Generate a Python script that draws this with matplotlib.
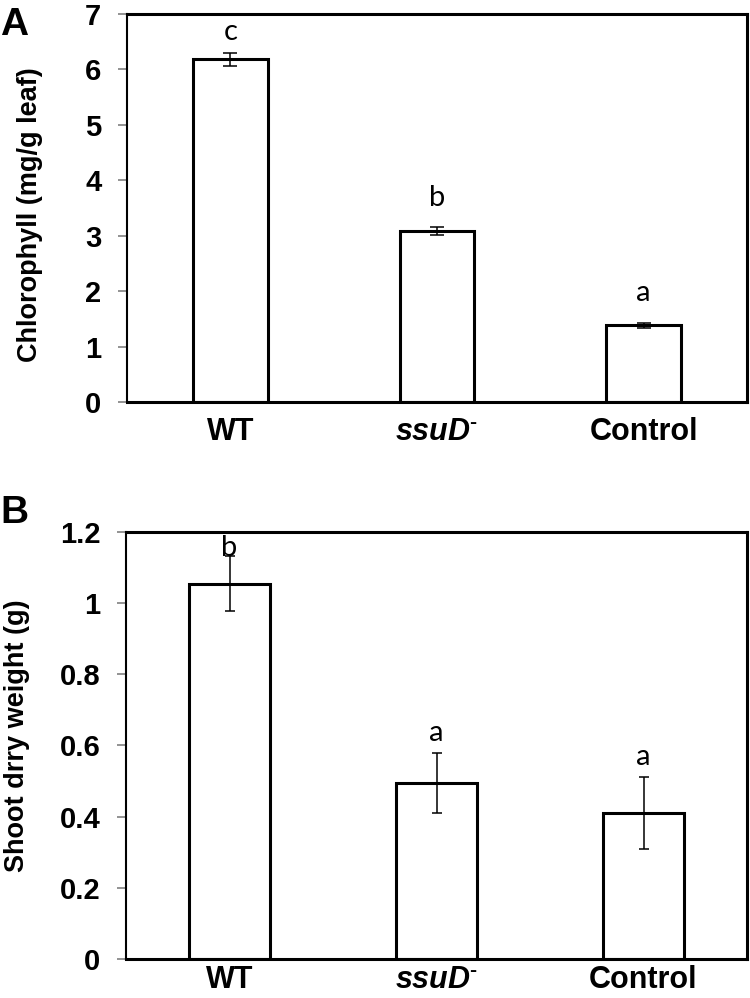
import numpy as np
import matplotlib
matplotlib.use("Agg")
from matplotlib import pyplot as plt

plt.rcParams['font.family'] = ['Liberation Sans', 'DejaVu Sans']
plt.rcParams['mathtext.fontset'] = 'custom'
plt.rcParams['mathtext.rm'] = 'Liberation Sans'
plt.rcParams['mathtext.bf'] = 'Liberation Sans:bold'
plt.rcParams['mathtext.bfit'] = 'Liberation Sans:bold:italic'

# Donnees
groupes = ['WT', '$\\mathbfit{ssuD}^{\\mathbf{\u2010}}$', 'Control']

chloro = [6.18, 3.08, 1.38]
chloro_err = [0.12, 0.07, 0.05]
chloro_lettres = ['c', 'b', 'a']
chloro_lettres_y = [6.68, 3.68, 1.96]

poids = [1.055, 0.495, 0.41]
poids_err = [0.078, 0.085, 0.10]
poids_lettres = ['b', 'a', 'a']
poids_lettres_y = [1.155, 0.635, 0.568]

ticks_a = [0, 1, 2, 3, 4, 5, 6, 7]
ticks_b = [0, 0.2, 0.4, 0.6, 0.8, 1, 1.2]
ticks_b_labels = ['0', '0.2', '0.4', '0.6', '0.8', '1', '1.2']


def panneau(ax, valeurs, erreurs, lettres, lettres_y, largeur, cap, xpad):
    x = np.arange(len(valeurs))
    ax.bar(x, valeurs, width=largeur, color='white', edgecolor='black',
           linewidth=2.2, zorder=2)
    ax.errorbar(x, valeurs, yerr=erreurs, fmt='none', ecolor='black',
                elinewidth=1.1, capsize=cap, capthick=1.1, zorder=3)
    for xi, l, ly in zip(x, lettres, lettres_y):
        ax.text(xi, ly, l, ha='center', va='center', fontsize=21,
                family=['Lato', 'DejaVu Sans'])
    ax.set_xlim(-0.5, len(valeurs) - 0.5)
    ax.set_xticks(x)
    ax.set_xticklabels(groupes, fontsize=22, fontweight='bold')
    ax.tick_params(axis='x', length=0, pad=xpad)
    ax.tick_params(axis='y', direction='out', length=6.5, width=1.2,
                   color='#808080', pad=12, labelsize=21)
    for lab in ax.get_yticklabels():
        lab.set_fontweight('bold')
    ax.spines['top'].set_linewidth(2.2)
    ax.spines['bottom'].set_linewidth(2.2)
    ax.spines['right'].set_linewidth(2.2)
    ax.spines['left'].set_linewidth(1.5)


fig = plt.figure(figsize=(7.5, 9.98), dpi=100)

# Panneau A
axA = fig.add_axes([0.1693, 0.5972, 0.8267, 0.3888])
axA.set_ylim(0, 7)
axA.set_yticks(ticks_a)
panneau(axA, chloro, chloro_err, chloro_lettres, chloro_lettres_y, 0.36, 4.7, 11)

# Panneau B
axB = fig.add_axes([0.168, 0.0391, 0.828, 0.4279])
axB.set_ylim(0, 1.2)
axB.set_yticks(ticks_b)
axB.set_yticklabels(ticks_b_labels)
panneau(axB, poids, poids_err, poids_lettres, poids_lettres_y, 0.395, 3.8, 4)

fig.text(30 / 750, 1 - 215 / 998, 'Chlorophyll (mg/g leaf)', rotation=90,
         ha='center', va='center', fontsize=19.5, fontweight='bold')
fig.text(17 / 750, 1 - 736 / 998, 'Shoot drry weight (g)', rotation=90,
         ha='center', va='center', fontsize=19.5, fontweight='bold')

fig.text(0.0, 1 - 7 / 998, 'A', ha='left', va='top', fontsize=28, fontweight='bold')
fig.text(0.0, 1 - 495 / 998, 'B', ha='left', va='top', fontsize=28, fontweight='bold')

fig.savefig('out.png', dpi=100)
